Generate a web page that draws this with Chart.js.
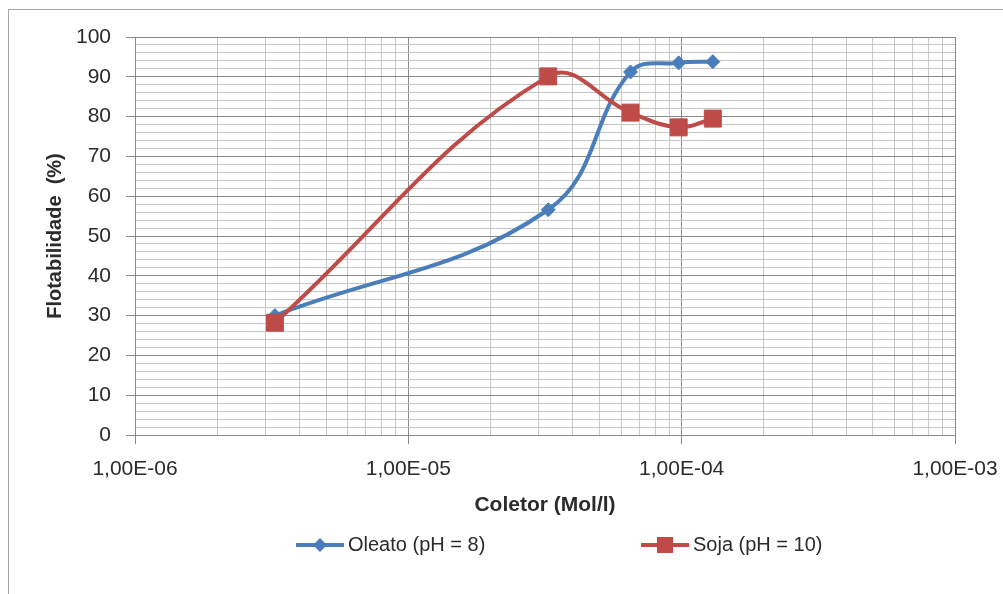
<!DOCTYPE html>
<html><head><meta charset="utf-8">
<script src="https://cdn.jsdelivr.net/npm/chart.js@4"></script>
<style>
html,body{margin:0;padding:0;background:#fff;}
#wrap{position:relative;width:1003px;height:594px;overflow:hidden;}
#frame{position:absolute;left:8px;top:9px;width:1100px;height:700px;border-left:1px solid #a6a6a6;border-top:1px solid #a6a6a6;}
canvas{position:absolute;left:0;top:0;}
</style></head><body>
<div id="wrap"><div id="frame"></div><canvas id="c" width="1003" height="594"></canvas></div>
<script>
// ---- data ----
const seriesNames = ['Oleato (pH = 8)', 'Soja (pH = 10)'];
const coletor = [3.25e-6, 3.25e-5, 6.5e-5, 9.75e-5, 1.3e-4];
const oleato = [30, 56.6, 91.2, 93.5, 93.8];
const soja = [28.2, 90.1, 81.0, 77.3, 79.5];
const xDecades = [1e-6, 1e-5, 1e-4, 1e-3];
const xTickLabels = ['1,00E-06', '1,00E-05', '1,00E-04', '1,00E-03'];
const yTickLabels = ['0', '10', '20', '30', '40', '50', '60', '70', '80', '90', '100'];
const xTitle = 'Coletor (Mol/l)';
const yTitle = 'Flotabilidade  (%)';

const BLUE = '#4A7EBB', RED = '#BE4B48';
const MAJOR = '#8a8a8a', MINOR = '#c6c6c6', TEXT = '#2b2b2b';
const FONT = "'Liberation Sans', Arial, sans-serif";

// gridline positions: decades plus 2..9 multiples
const xTickValues = [];
xDecades.forEach((d, i) => {
  xTickValues.push(d);
  if (i < xDecades.length - 1) for (let m = 2; m <= 9; m++) xTickValues.push(m * d);
});
const isDecade = v => Math.abs(Math.log10(v) - Math.round(Math.log10(v))) < 1e-9;
const decadeLabel = v => {
  const idx = xDecades.findIndex(d => Math.abs(Math.log10(d) - Math.log10(v)) < 1e-9);
  return idx >= 0 ? xTickLabels[idx] : '';
};

const toPts = ys => coletor.map((x, i) => ({x: x, y: ys[i]}));

const legendPlugin = {
  id: 'excelLegend',
  afterDraw(chart) {
    const ctx = chart.ctx;
    const starts = [296, 641];
    const cy = 545;
    chart.data.datasets.forEach((ds, i) => {
      const x0 = starts[i];
      ctx.save();
      ctx.strokeStyle = ds.borderColor;
      ctx.lineWidth = 4;
      ctx.beginPath();
      ctx.moveTo(x0, cy); ctx.lineTo(x0 + 48, cy);
      ctx.stroke();
      const mx = x0 + 24;
      ctx.fillStyle = ds.pointBackgroundColor;
      ctx.beginPath();
      if (ds.pointStyle === 'rectRot') {
        const r = 7;
        ctx.moveTo(mx - r, cy); ctx.lineTo(mx, cy - r); ctx.lineTo(mx + r, cy); ctx.lineTo(mx, cy + r);
        ctx.closePath();
      } else {
        const s = 8;
        ctx.rect(mx - s, cy - s, 2 * s, 2 * s);
      }
      ctx.fill();
      ctx.fillStyle = TEXT;
      ctx.font = '20px ' + FONT;
      ctx.textBaseline = 'middle';
      ctx.textAlign = 'left';
      ctx.fillText(ds.label, x0 + 52, cy);
      ctx.restore();
    });
  }
};

new Chart(document.getElementById('c'), {
  type: 'scatter',
  data: {
    datasets: [
      {
        label: seriesNames[0], data: toPts(oleato), showLine: true, tension: 0.4,
        borderColor: BLUE, borderWidth: 4, pointStyle: 'rectRot', pointRadius: 7,
        pointBackgroundColor: BLUE, pointBorderColor: BLUE, pointBorderWidth: 1, order: 2
      },
      {
        label: seriesNames[1], data: toPts(soja), showLine: true, tension: 0.4,
        borderColor: RED, borderWidth: 4, pointStyle: 'rect', pointRadius: 12,
        pointBackgroundColor: RED, pointBorderColor: RED, pointBorderWidth: 1, order: 1
      }
    ]
  },
  options: {
    responsive: false,
    animation: false,
    layout: { padding: { left: 30, top: 37, right: 48, bottom: 76 } },
    plugins: { legend: { display: false }, tooltip: { enabled: false } },
    scales: {
      x: {
        type: 'logarithmic', min: 1e-6, max: 1e-3,
        afterBuildTicks: s => { s.ticks = xTickValues.map(v => ({value: v})); },
        afterFit: s => { s.height = 83; s.paddingLeft = 0; s.paddingRight = 0; },
        ticks: {
          autoSkip: false, maxRotation: 0, minRotation: 0, padding: 13,
          color: TEXT, font: { family: FONT, size: 21 },
          callback: v => isDecade(v) ? decadeLabel(v) : ''
        },
        grid: {
          color: c => isDecade(c.tick.value) ? MAJOR : MINOR,
          tickColor: c => isDecade(c.tick.value) ? MAJOR : 'rgba(0,0,0,0)',
          tickLength: 9, lineWidth: 1
        },
        border: { display: true, color: MAJOR, width: 1 },
        title: {
          display: true, text: xTitle, color: TEXT,
          font: { family: FONT, size: 21, weight: 'bold' }, padding: { top: 0, bottom: 0 }
        }
      },
      y: {
        type: 'linear', min: 0, max: 100,
        afterFit: s => { s.width = 105; s.paddingTop = 0; s.paddingBottom = 0; },
        ticks: {
          stepSize: 2, autoSkip: false, padding: 15,
          color: TEXT, font: { family: FONT, size: 21 },
          callback: v => (Math.round(v) % 10 === 0) ? yTickLabels[Math.round(v) / 10] : ''
        },
        grid: {
          color: c => (Math.round(c.tick.value) % 10 === 0) ? MAJOR : MINOR,
          tickColor: c => (Math.round(c.tick.value) % 10 === 0) ? MAJOR : 'rgba(0,0,0,0)',
          tickLength: 9, lineWidth: 1
        },
        border: { display: true, color: MAJOR, width: 1 },
        title: {
          display: true, text: yTitle, color: TEXT,
          font: { family: FONT, size: 20, weight: 'bold' }, padding: { top: 13, bottom: 0 }
        }
      }
    }
  },
  plugins: [legendPlugin]
});
</script>
</body></html>
